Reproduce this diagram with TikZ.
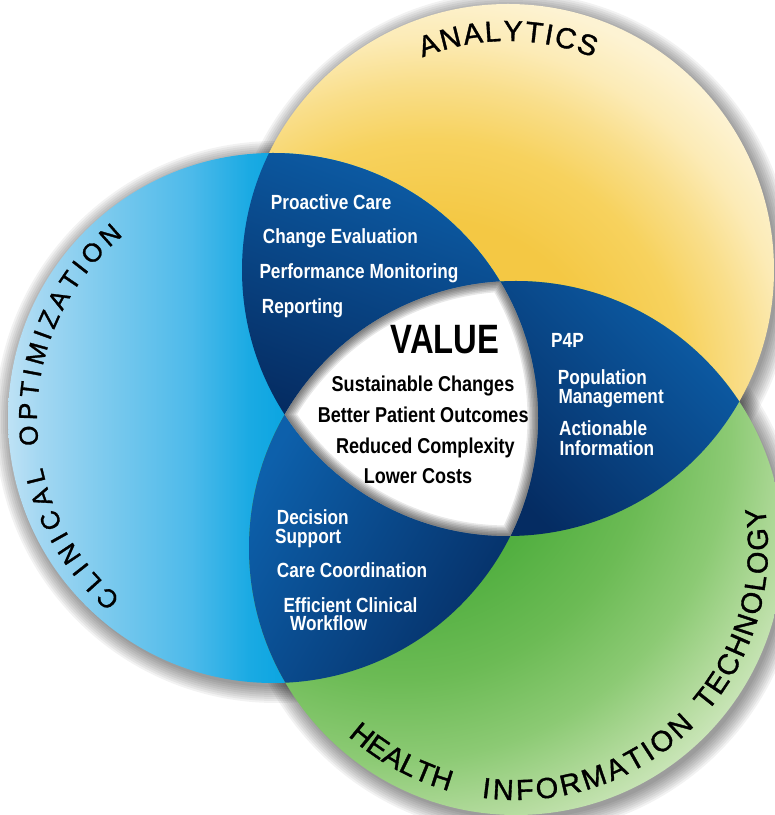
\documentclass[tikz,border=0pt]{standalone}
\usepackage{fontspec}
\setmainfont{Liberation Sans}
\newfontfamily\cnd[FakeStretch=0.84]{Liberation Sans}
\newfontfamily\vfnt[FakeStretch=0.80]{Liberation Sans}
\newfontfamily\labf[FakeBold=1.2]{Liberation Sans}
\usetikzlibrary{decorations.text}

\definecolor{ylA}{HTML}{F4C844}
\definecolor{ylB}{HTML}{F7D25E}
\definecolor{ylC}{HTML}{F9DE8A}
\definecolor{ylD}{HTML}{FCEBB6}
\definecolor{ylE}{HTML}{FDF3D3}
\definecolor{blA}{HTML}{BEE2F5}
\definecolor{blB}{HTML}{A3D7F2}
\definecolor{blC}{HTML}{7FCBEE}
\definecolor{blD}{HTML}{4DBAEA}
\definecolor{blE}{HTML}{1AAAE3}
\definecolor{blF}{HTML}{05A3E0}
\definecolor{gnA}{HTML}{4FAE3E}
\definecolor{gnB}{HTML}{6CBB55}
\definecolor{gnC}{HTML}{8CCA74}
\definecolor{gnD}{HTML}{B6DCA0}
\definecolor{gnE}{HTML}{D9ECCB}
\definecolor{dkL}{HTML}{0D60AB}
\definecolor{dkM}{HTML}{0A4F96}
\definecolor{dkD}{HTML}{052C62}

\pgfdeclareradialshading{yelsh}{\pgfpointorigin}{color(0bp)=(ylA); color(10.7bp)=(ylA); color(15.5bp)=(ylB); color(18.8bp)=(ylC); color(21.6bp)=(ylD); color(24.4bp)=(ylE); color(50bp)=(ylE)}
\pgfdeclarehorizontalshading{blsh}{100bp}{color(0bp)=(blA); color(25bp)=(blA); color(28bp)=(blB); color(33.7bp)=(blC); color(42.2bp)=(blD); color(47.8bp)=(blE); color(52.5bp)=(blF); color(100bp)=(blF)}
\pgfdeclareradialshading{grnsh}{\pgfpointorigin}{color(0bp)=(gnA); color(7.8bp)=(gnA); color(13bp)=(gnB); color(17.2bp)=(gnC); color(20.8bp)=(gnD); color(24bp)=(gnE); color(50bp)=(gnE)}

\newcommand\labA{\labf\fontsize{29}{31}\selectfont}
\newcommand\labC{\labf\fontsize{26}{28}\selectfont}

\tikzset{
  wt/.style={text=white, font=\cnd\bfseries\fontsize{20.5}{22}\selectfont, anchor=base west, inner sep=0pt},
  bk/.style={text=black, font=\cnd\bfseries\fontsize{21.5}{23}\selectfont, anchor=base, inner sep=0pt},
  shd/.style={fill=black, opacity=0.05}
}

\begin{document}
\begin{tikzpicture}[x=1pt,y=1pt]
\useasboundingbox (0,0) rectangle (775,815);
\fill[white] (0,0) rectangle (775,815);

\coordinate (cy) at (508,545);
\coordinate (cb) at (273,397);
\coordinate (cg) at (516,267);

% soft shadows
\foreach \k in {0,2,...,16}{
  \fill[shd] (511,541) circle[radius=266pt+\k pt];
  \fill[shd] (276,393) circle[radius=265pt+\k pt];
  \fill[shd] (519,263) circle[radius=267pt+\k pt];
}

% yellow circle
\begin{scope}
  \clip (cy) circle[radius=266pt];
  \shade[shading=yelsh] (430,415) circle[radius=420pt];
\end{scope}
% blue circle
\shade[shading=blsh] (cb) circle[radius=265pt];
% green circle
\begin{scope}
  \clip (cg) circle[radius=267pt];
  \shade[shading=grnsh] (400,385) circle[radius=480pt];
\end{scope}

% dark intersections
\begin{scope}
  \clip (cb) circle[radius=265pt];
  \clip (cy) circle[radius=266pt];
  \shade[top color=dkL, middle color=dkM, bottom color=dkD, shading angle=-20] (225,385) rectangle (515,675);
\end{scope}
\begin{scope}
  \clip (cy) circle[radius=266pt];
  \clip (cg) circle[radius=267pt];
  \shade[top color=dkL, middle color=dkM, bottom color=dkD, shading angle=-45] (490,265) rectangle (750,545);
\end{scope}
\begin{scope}
  \clip (cb) circle[radius=265pt];
  \clip (cg) circle[radius=267pt];
  \shade[top color=dkL, middle color=dkM, bottom color=dkD, shading angle=60] (240,120) rectangle (530,410);
\end{scope}

% white centre with inner shadow
\begin{scope}
  \clip (cb) circle[radius=265pt];
  \clip (cy) circle[radius=266pt];
  \clip (cg) circle[radius=267pt];
  \fill[white] (250,250) rectangle (560,580);
  \foreach \w in {3,6,...,21}{
    \draw[black, opacity=0.09, line width=\w pt] (cb) circle[radius=265pt] (cy) circle[radius=266pt] (cg) circle[radius=267pt];
  }
\end{scope}

% upper-left texts
\node[wt] (t1) at (270.7,605.7) {Proactive Care};
\node[wt] (t2) at (262.7,571) {Change Evaluation};
\node[wt] (t3) at (259.3,536) {Performance Monitoring};
\node[wt] (t4) at (261.7,501.7) {Reporting};
% right texts
\node[wt] (r1) at (551,467.3) {P4P};
\node[wt] (r2) at (557.7,430.7) {Population};
\node[wt] (r3) at (558.3,411.7) {Management};
\node[wt] (r4) at (559,379) {Actionable};
\node[wt] (r5) at (559.3,359.3) {Information};
% lower texts
\node[wt] (l1) at (276.7,290.7) {Decision};
\node[wt] (l2) at (275,271.7) {Support};
\node[wt] (l3) at (276.7,237.3) {Care Coordination};
\node[wt] (l4) at (283.3,202.7) {Efficient Clinical};
\node[wt] (l5) at (290,184) {Workflow};
% centre texts
\node[text=black, font=\vfnt\bfseries\fontsize{41}{44}\selectfont, anchor=base, inner sep=0pt] (v0) at (445,461.7) {VALUE};
\node[bk] (v1) at (423,423.3) {Sustainable Changes};
\node[bk] (v2) at (423.2,392.7) {Better Patient Outcomes};
\node[bk] (v3) at (425.4,361.7) {Reduced Complexity};
\node[bk] (v4) at (418,331.7) {Lower Costs};

% curved labels
\path[decorate, decoration={text along path, text={|\labA|ANALYTICS}, text align={fit to path}}]
  ([shift={(111.9:229pt)}]cy) arc[start angle=111.9, end angle=68.1, radius=229pt];
\path[decorate, decoration={text along path, text={|\labC|CLINICAL}, text align={fit to path}}]
  ([shift={(229.8:236pt)}]cb) arc[start angle=229.8, end angle=192.1, radius=236pt];
\path[decorate, decoration={text along path, text={|\labC|OPTIMIZATION}, text align={fit to path}}]
  ([shift={(186.6:236pt)}]cb) arc[start angle=186.6, end angle=129.4, radius=236pt];
\path[decorate, decoration={text along path, text={|\labA|HEALTH}, text align={fit to path}}]
  ([shift={(228.2:252pt)}]cg) arc[start angle=228.2, end angle=254.6, radius=252pt];
\path[decorate, decoration={text along path, text={|\labA|INFORMATION}, text align={fit to path}}]
  ([shift={(262.1:252pt)}]cg) arc[start angle=262.1, end angle=315.1, radius=252pt];
\path[decorate, decoration={text along path, text={|\labA|TECHNOLOGY}, text align={fit to path}}]
  ([shift={(319.5:252pt)}]cg) arc[start angle=319.5, end angle=369.4, radius=252pt];
\end{tikzpicture}
\end{document}
